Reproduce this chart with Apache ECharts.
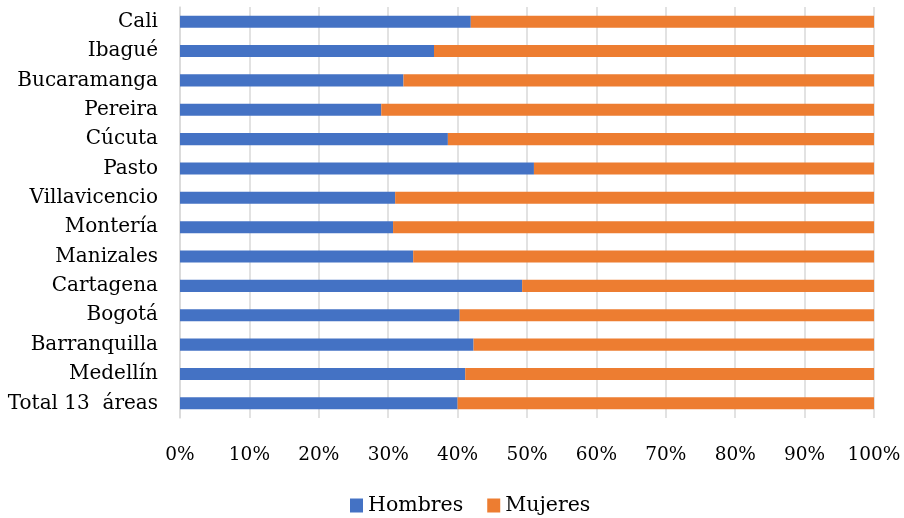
<!DOCTYPE html>
<html>
<head>
<meta charset="utf-8">
<script src="https://cdn.jsdelivr.net/npm/echarts@6/dist/echarts.min.js"></script>
<style>
  html, body { margin: 0; padding: 0; background: #fff; }
  #chart { width: 904px; height: 518px; }
</style>
</head>
<body>
<div id="chart"></div>
<script>
// Cities, listed bottom-to-top as drawn on the category axis
const cities = [
  'Total 13  áreas', 'Medellín', 'Barranquilla', 'Bogotá', 'Cartagena',
  'Manizales', 'Montería', 'Villavicencio', 'Pasto', 'Cúcuta',
  'Pereira', 'Bucaramanga', 'Ibagué', 'Cali'
];
// Share of men (%) per city
const hombres = [40.0, 41.1, 42.3, 40.3, 49.3, 33.6, 30.7, 31.0, 51.0, 38.6, 29.0, 32.2, 36.6, 41.9];
// Share of women (%) per city
const mujeres = [60.0, 58.9, 57.7, 59.7, 50.7, 66.4, 69.3, 69.0, 49.0, 61.4, 71.0, 67.8, 63.4, 58.1];
const pctTicks = ['0%', '10%', '20%', '30%', '40%', '50%', '60%', '70%', '80%', '90%', '100%'];

const FONT = 'DejaVu Serif';
const chart = echarts.init(document.getElementById('chart'), null, { renderer: 'canvas' });

chart.setOption({
  animation: false,
  textStyle: { fontFamily: FONT },
  grid: { left: 180, right: 30, top: 7, bottom: 100, containLabel: false },
  legend: {
    top: 490,
    left: 345,
    itemWidth: 13,
    itemHeight: 14,
    itemGap: 24,
    icon: 'rect',
    textStyle: { fontFamily: FONT, fontSize: 20.5, color: '#000' },
    data: ['Hombres', 'Mujeres']
  },
  xAxis: {
    type: 'value',
    min: 0,
    max: 100,
    interval: 10,
    axisLine: { show: false },
    axisTick: { show: false },
    splitLine: { show: true, lineStyle: { color: '#d9d9d9', width: 1.5 } },
    axisLabel: {
      margin: 28,
      fontFamily: FONT,
      fontSize: 18.5,
      color: '#000',
      formatter: v => pctTicks[Math.round(v / 10)]
    }
  },
  yAxis: {
    type: 'category',
    data: cities,
    axisLine: { show: true, lineStyle: { color: '#d9d9d9', width: 1.5 } },
    axisTick: { show: false },
    axisLabel: { margin: 22, fontFamily: FONT, fontSize: 20, color: '#000' }
  },
  series: [
    {
      name: 'Hombres',
      type: 'bar',
      stack: 'total',
      barWidth: '41%',
      itemStyle: { color: '#4472c4' },
      data: hombres
    },
    {
      name: 'Mujeres',
      type: 'bar',
      stack: 'total',
      barWidth: '41%',
      itemStyle: { color: '#ed7d31' },
      data: mujeres
    }
  ]
});
</script>
</body>
</html>
